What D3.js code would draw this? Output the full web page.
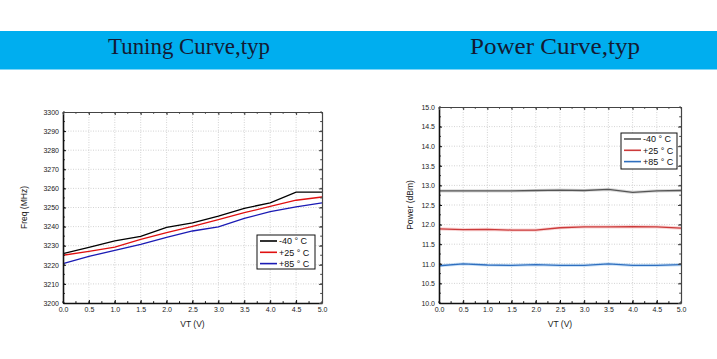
<!DOCTYPE html>
<html><head><meta charset="utf-8">
<script src="https://cdn.jsdelivr.net/npm/d3@7"></script>
<style>body{margin:0;background:#fff}svg{display:block}</style>
</head><body>
<svg id="c" width="717" height="359"></svg>
<script>
const vt = [0,0.5,1.0,1.5,2.0,2.5,3.0,3.5,4.0,4.5,5.0];
const seriesNames = ["-40 ° C","+25 ° C","+85 ° C"];
const freqM40 = [3225.8,3229.1,3232.5,3234.9,3239.6,3242.0,3245.5,3249.6,3252.4,3258.1,3258.1];
const freqP25 = [3225.0,3227.0,3229.3,3233.3,3236.8,3240.1,3243.6,3247.3,3250.6,3253.8,3255.5];
const freqP85 = [3220.6,3224.4,3227.6,3230.7,3234.4,3237.7,3239.8,3244.3,3247.8,3250.3,3252.4];
const powM40 = [12.86,12.86,12.86,12.86,12.87,12.88,12.87,12.90,12.82,12.86,12.87];
const powP25 = [11.89,11.87,11.88,11.86,11.86,11.92,11.94,11.94,11.95,11.94,11.91];
const powP85 = [10.95,11.00,10.97,10.96,10.98,10.96,10.96,11.00,10.96,10.96,10.98];
const xTicks = [0,0.5,1.0,1.5,2.0,2.5,3.0,3.5,4.0,4.5,5.0];
const freqTicks = [3200,3210,3220,3230,3240,3250,3260,3270,3280,3290,3300];
const powTicks = [10.0,10.5,11.0,11.5,12.0,12.5,13.0,13.5,14.0,14.5,15.0];
const titles = ["Tuning Curve,typ","Power Curve,typ"];

const svg = d3.select("#c");
svg.append("rect").attr("x",0).attr("y",31).attr("width",717).attr("height",38.5).attr("fill","#00aeef");
svg.append("text").attr("x",189).attr("y",53.5).attr("text-anchor","middle")
  .attr("font-family","Liberation Serif").attr("font-size",24).attr("fill","#141a33")
  .attr("textLength",162).attr("lengthAdjust","spacingAndGlyphs").text(titles[0]);
svg.append("text").attr("x",555).attr("y",53.5).attr("text-anchor","middle")
  .attr("font-family","Liberation Serif").attr("font-size",24).attr("fill","#141a33")
  .attr("textLength",170).attr("lengthAdjust","spacingAndGlyphs").text(titles[1]);

function chart(cfg){
  const g = svg.append("g");
  const x = d3.scaleLinear().domain([0,5]).range([cfg.x0,cfg.x1]);
  const y = d3.scaleLinear().domain(cfg.ydom).range([cfg.y1,cfg.y0]);
  // grid
  g.append("g").selectAll("line").data(xTicks.slice(1,-1)).join("line")
    .attr("x1",d=>x(d)).attr("x2",d=>x(d)).attr("y1",cfg.y0).attr("y2",cfg.y1)
    .attr("stroke","#c8c8c8").attr("stroke-width",0.8).attr("stroke-dasharray","1,1.5");
  g.append("g").selectAll("line").data(cfg.yticks.slice(1,-1)).join("line")
    .attr("y1",d=>y(d)).attr("y2",d=>y(d)).attr("x1",cfg.x0).attr("x2",cfg.x1)
    .attr("stroke","#c8c8c8").attr("stroke-width",0.8).attr("stroke-dasharray","1,1.5");
  // lines
  const line = d3.line().x((d,i)=>x(vt[i])).y(d=>y(d));
  cfg.series.forEach((s,k)=>{
    if(cfg.glow) g.append("path").datum(s).attr("d",line).attr("fill","none")
      .attr("stroke",cfg.glow[k]).attr("stroke-width",3.2).attr("opacity",0.45);
    g.append("path").datum(s).attr("d",line).attr("fill","none")
      .attr("stroke",cfg.colors[k]).attr("stroke-width",cfg.lw);
  });
  // axes
  const minorX = d3.range(0,5.001,0.25);
  const minorY = d3.range(cfg.ydom[0], cfg.ydom[1]+1e-6, (cfg.ydom[1]-cfg.ydom[0])/20);
  const axB = d3.axisBottom(x).tickValues(xTicks).tickFormat(d3.format(".1f")).tickSizeInner(-3).tickSizeOuter(0).tickPadding(5);
  const axL = d3.axisLeft(y).tickValues(cfg.yticks).tickFormat(cfg.yfmt).tickSizeInner(-3).tickSizeOuter(0).tickPadding(4);
  const gb = g.append("g").attr("transform",`translate(0,${cfg.y1})`).call(axB);
  const gl = g.append("g").attr("transform",`translate(${cfg.x0},0)`).call(axL);
  [gb,gl].forEach(a=>{
    a.select(".domain").attr("stroke","#111").attr("stroke-width",1.6);
    a.selectAll(".tick line").attr("stroke","#111").attr("stroke-width",1);
    a.selectAll("text").attr("font-family","Liberation Sans").attr("font-size",7).attr("fill","#222");
  });
  gb.selectAll(".tick text").attr("dy","0.5em");
  // minor ticks bottom/left
  g.append("g").selectAll("line").data(minorX).join("line")
    .attr("x1",d=>x(d)).attr("x2",d=>x(d)).attr("y1",cfg.y1).attr("y2",cfg.y1-1.8).attr("stroke","#111");
  g.append("g").selectAll("line").data(minorY).join("line")
    .attr("y1",d=>y(d)).attr("y2",d=>y(d)).attr("x1",cfg.x0).attr("x2",cfg.x0+1.8).attr("stroke","#111");
  // top/right frame
  const gt = g.append("g").attr("transform",`translate(0,${cfg.y0})`)
    .call(d3.axisTop(x).tickValues(xTicks).tickFormat("").tickSizeInner(-3).tickSizeOuter(0));
  const gr = g.append("g").attr("transform",`translate(${cfg.x1},0)`)
    .call(d3.axisRight(y).tickValues(cfg.yticks).tickFormat("").tickSizeInner(-3).tickSizeOuter(0));
  [gt,gr].forEach(a=>{
    a.select(".domain").attr("stroke","#444").attr("stroke-width",1.2);
    a.selectAll(".tick line").attr("stroke","#444");
  });
  g.append("g").selectAll("line").data(minorX).join("line")
    .attr("x1",d=>x(d)).attr("x2",d=>x(d)).attr("y1",cfg.y0).attr("y2",cfg.y0+1.8).attr("stroke","#444");
  g.append("g").selectAll("line").data(minorY).join("line")
    .attr("y1",d=>y(d)).attr("y2",d=>y(d)).attr("x1",cfg.x1).attr("x2",cfg.x1-1.8).attr("stroke","#444");
  // axis titles
  g.append("text").attr("x",(cfg.x0+cfg.x1)/2).attr("y",cfg.y1+24).attr("text-anchor","middle")
    .attr("font-family","Liberation Sans").attr("font-size",8.5).attr("fill","#222").text("VT (V)");
  g.append("text").attr("transform",`translate(${cfg.ylx},${(cfg.y0+cfg.y1)/2}) rotate(-90)`).attr("text-anchor","middle")
    .attr("font-family","Liberation Sans").attr("font-size",8.5).attr("fill","#222").text(cfg.ylabel);
  // legend
  const L = cfg.leg;
  g.append("rect").attr("x",L.x).attr("y",L.y).attr("width",L.w).attr("height",L.h)
    .attr("fill","#fff").attr("stroke","#111").attr("stroke-width",1);
  seriesNames.forEach((n,k)=>{
    const yy = L.y + 6 + k*11.3;
    g.append("line").attr("x1",L.x+3).attr("x2",L.x+L.lw).attr("y1",yy).attr("y2",yy)
      .attr("stroke",cfg.colors[k]).attr("stroke-width",cfg.lw+0.3);
    g.append("text").attr("x",L.x+L.lw+2).attr("y",yy+3.3).attr("font-family","Liberation Sans")
      .attr("font-size",9).attr("fill","#111").text(n);
  });
}

chart({x0:63,x1:322,y0:112,y1:303,ydom:[3200,3300],yticks:freqTicks,yfmt:d3.format("d"),
  series:[freqM40,freqP25,freqP85],colors:["#000000","#e01010","#1a1ab4"],lw:1.3,
  ylabel:"Freq (MHz)",ylx:27,leg:{x:257,y:235,w:58,h:34,lw:20}});
chart({x0:439,x1:681,y0:107,y1:303,ydom:[10,15],yticks:powTicks,yfmt:d3.format(".1f"),
  series:[powM40,powP25,powP85],colors:["#555555","#cc3a3a","#2f6fbf"],glow:["#aaaaaa","#f0a0a0","#90c0f0"],lw:1.3,
  ylabel:"Power (dBm)",ylx:413,leg:{x:621,y:133,w:56,h:36,lw:20}});
</script>
</body></html>
